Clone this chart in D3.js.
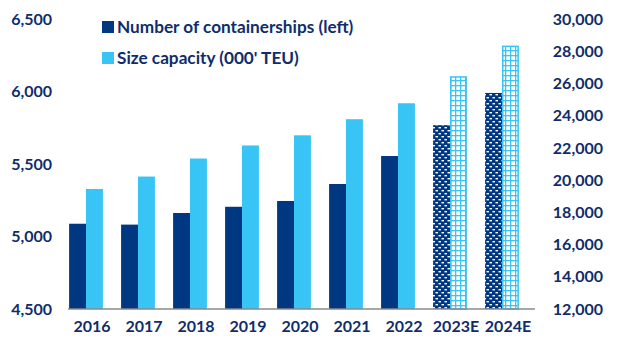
<!DOCTYPE html>
<html>
<head>
<meta charset="utf-8">
<script src="https://cdn.jsdelivr.net/npm/d3@7"></script>
<style>
  body { margin: 0; background: #fff; }
  text { font-family: Lato, "Open Sans", sans-serif; font-weight: bold; fill: #0f2d6b; }
</style>
</head>
<body>
<svg id="chart"></svg>
<script>
const years = ["2016", "2017", "2018", "2019", "2020", "2021", "2022", "2023E", "2024E"];
const ships = [5088, 5082, 5162, 5205, 5245, 5362, 5555, 5768, 5990];
const capacity = [19450, 20220, 21340, 22150, 22780, 23780, 24770, 26450, 28350];
const forecast = ["2023E", "2024E"];
const leftTicks = [4500, 5000, 5500, 6000, 6500];
const rightTicks = [12000, 14000, 16000, 18000, 20000, 22000, 24000, 26000, 28000, 30000];
const legendLabels = ["Number of containerships (left)", "Size capacity (000' TEU)"];

const width = 620, height = 350;
const dark = "#003781", light = "#38c4f4";

const svg = d3.select("#chart").attr("width", width).attr("height", height);

const defs = svg.append("defs");
// dotted pattern for forecast containership bars
const pd = defs.append("pattern").attr("id", "darkPat")
    .attr("patternUnits", "userSpaceOnUse").attr("width", 6).attr("height", 6);
pd.append("rect").attr("width", 6).attr("height", 6).attr("fill", dark);
pd.append("rect").attr("x", 0.5).attr("y", 1).attr("width", 2.5).attr("height", 1.4).attr("fill", "#fff");
pd.append("rect").attr("x", 3.5).attr("y", 4).attr("width", 2.5).attr("height", 1.4).attr("fill", "#fff");
// grid pattern for forecast capacity bars
const pl = defs.append("pattern").attr("id", "lightPat")
    .attr("patternUnits", "userSpaceOnUse").attr("width", 5).attr("height", 5);
pl.append("rect").attr("width", 5).attr("height", 5).attr("fill", "#fff");
pl.append("rect").attr("width", 5).attr("height", 1.3).attr("fill", light);
pl.append("rect").attr("width", 1.3).attr("height", 5).attr("fill", light);

const x = d3.scaleBand().domain(years).range([60, 528]).paddingInner(0.35).paddingOuter(0.175);
const xs = d3.scaleBand().domain([0, 1]).range([0, x.bandwidth()]);
const yL = d3.scaleLinear().domain([4500, 6500]).range([309, 19]);
const yR = d3.scaleLinear().domain([12000, 30000]).range([309, 19]);

const bars = svg.append("g");
bars.selectAll("rect.ships")
    .data(years)
    .join("rect")
    .attr("class", "ships")
    .attr("x", d => x(d) + xs(0))
    .attr("width", xs.bandwidth())
    .attr("y", (d, i) => yL(ships[i]))
    .attr("height", (d, i) => yL(4500) - yL(ships[i]))
    .attr("fill", d => forecast.includes(d) ? "url(#darkPat)" : dark);

bars.selectAll("rect.cap")
    .data(years)
    .join("rect")
    .attr("class", "cap")
    .attr("x", d => x(d) + xs(1) + (forecast.includes(d) ? 0.75 : 0))
    .attr("width", d => xs.bandwidth() - (forecast.includes(d) ? 1.5 : 0))
    .attr("y", (d, i) => yR(capacity[i]) + (forecast.includes(d) ? 0.75 : 0))
    .attr("height", (d, i) => yR(12000) - yR(capacity[i]) - (forecast.includes(d) ? 0.75 : 0))
    .attr("fill", d => forecast.includes(d) ? "url(#lightPat)" : light)
    .attr("stroke", d => forecast.includes(d) ? light : "none")
    .attr("stroke-width", 1.5);

// baseline
svg.append("line")
    .attr("x1", 68).attr("x2", 535)
    .attr("y1", yL(4500)).attr("y2", yL(4500))
    .attr("stroke", "#8a8a8a").attr("stroke-width", 1.5);

// left axis
const leftAxis = svg.append("g")
    .attr("transform", "translate(52,0)")
    .call(d3.axisLeft(yL).tickValues(leftTicks).tickFormat(d3.format(",")).tickSize(0).tickPadding(0));
// right axis
const rightAxis = svg.append("g")
    .attr("transform", "translate(603,0)")
    .call(d3.axisLeft(yR).tickValues(rightTicks).tickFormat(d3.format(",")).tickSize(0).tickPadding(0));
// x axis
const xAxis = svg.append("g")
    .attr("transform", "translate(6,309)")
    .call(d3.axisBottom(x).tickSize(0).tickPadding(12));

[leftAxis, rightAxis, xAxis].forEach(a => {
    a.select(".domain").remove();
    a.selectAll("text").attr("font-size", "16px")
        .attr("font-family", "Lato, sans-serif").attr("fill", "#0f2d6b");
});

// legend
const legend = svg.append("g").attr("transform", "translate(102,21)");
legendLabels.forEach((label, i) => {
    const g = legend.append("g").attr("transform", `translate(0,${i * 31})`);
    g.append("rect").attr("width", 12).attr("height", 12).attr("fill", i === 0 ? dark : light);
    g.append("text").attr("x", 15).attr("y", 12).attr("font-size", "17.2px").text(label);
});
</script>
</body>
</html>
